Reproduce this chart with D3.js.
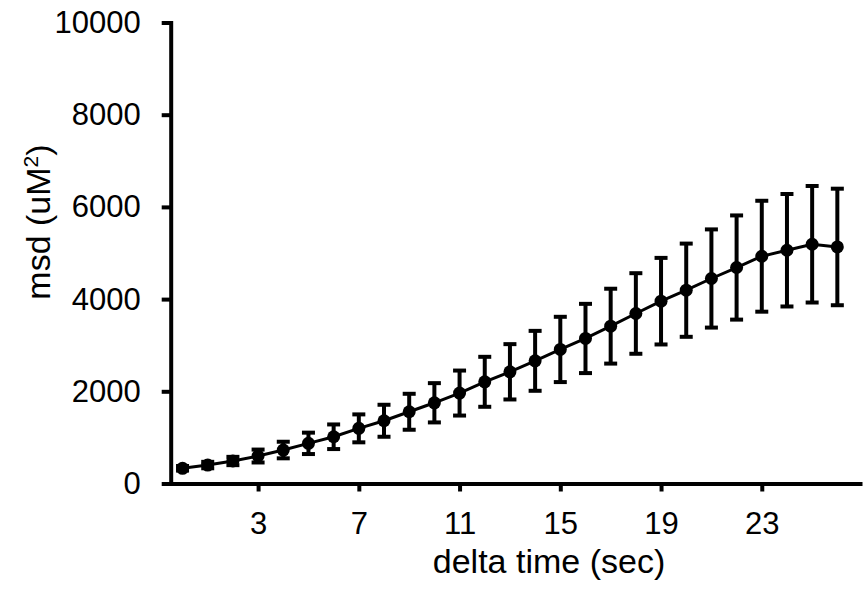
<!DOCTYPE html>
<html>
<head>
<meta charset="utf-8">
<script src="https://cdn.jsdelivr.net/npm/d3@7"></script>
<style>
  html, body { margin: 0; padding: 0; background: #fff; }
  svg { display: block; }
  text { font-family: "Liberation Sans", Arial, Helvetica, sans-serif; fill: #000; }
</style>
</head>
<body>
<svg id="chart" width="864" height="600"></svg>
<script>
// ---- data ----
const deltaTime = [0,1,2,3,4,5,6,7,8,9,10,11,12,13,14,15,16,17,18,19,20,21,22,23,24,25,26];
const msdValues = [330,400,488,596,726,871,1014,1196,1361,1556,1751,1962,2206,2423,2661,2908,3146,3413,3688,3955,4193,4447,4685,4930,5060,5190,5131];
const msdError  = [50,70,90,140,180,232,267,303,347,390,426,488,542,600,650,708,751,812,874,939,1011,1065,1130,1203,1220,1264,1264];
const xTickValues = [3,7,11,15,19,23];
const yTickValues = [0,2000,4000,6000,8000,10000];
const xTitle = "delta time (sec)";

// ---- layout ----
const svg = d3.select("#chart");
const x = d3.scaleLinear().domain([-0.47, 26.9]).range([170.7, 860]);
const y = d3.scaleLinear().domain([0, 10000]).range([483.5, 22.5]);

const data = deltaTime.map((t, i) => ({ t, v: msdValues[i], e: msdError[i] }));

// ---- axes ----
const yAxis = d3.axisLeft(y).tickValues(yTickValues).tickFormat(d3.format("d"))
  .tickSize(9).tickSizeOuter(0).tickPadding(21);
const xAxis = d3.axisBottom(x).tickValues(xTickValues).tickFormat(d3.format("d"))
  .tickSize(8).tickSizeOuter(0).tickPadding(20);

const gy = svg.append("g").attr("transform", `translate(${x.range()[0]},0)`).call(yAxis);
const gx = svg.append("g").attr("transform", `translate(0,${y.range()[0]})`).call(xAxis);

[gx, gy].forEach(g => {
  g.select(".domain").attr("stroke", "#000").attr("stroke-width", 4).attr("stroke-linecap", "square");
  g.selectAll(".tick line").attr("stroke", "#000").attr("stroke-width", 4);
  g.selectAll(".tick text").attr("font-size", 31).attr("font-family", "Liberation Sans, Arial, sans-serif").attr("fill", "#000");
});

// ---- titles ----
svg.append("text")
  .attr("x", 549).attr("y", 573)
  .attr("text-anchor", "middle")
  .attr("font-size", 34)
  .text(xTitle);

const yt = svg.append("text")
  .attr("transform", "translate(50,222) rotate(-90)")
  .attr("text-anchor", "middle")
  .attr("font-size", 34);
yt.append("tspan").text("msd (uM");
yt.append("tspan").attr("font-size", 21).attr("dy", -12).text("2");
yt.append("tspan").attr("dy", 12).text(")");

// ---- error bars ----
const capHalf = 6.5;
const eb = svg.append("g").attr("stroke", "#000").attr("stroke-width", 4);
eb.selectAll("line.v").data(data).join("line").attr("class", "v")
  .attr("x1", d => x(d.t)).attr("x2", d => x(d.t))
  .attr("y1", d => y(d.v - d.e)).attr("y2", d => y(d.v + d.e));
eb.selectAll("line.top").data(data).join("line").attr("class", "top")
  .attr("x1", d => x(d.t) - capHalf).attr("x2", d => x(d.t) + capHalf)
  .attr("y1", d => y(d.v + d.e)).attr("y2", d => y(d.v + d.e));
eb.selectAll("line.bot").data(data).join("line").attr("class", "bot")
  .attr("x1", d => x(d.t) - capHalf).attr("x2", d => x(d.t) + capHalf)
  .attr("y1", d => y(d.v - d.e)).attr("y2", d => y(d.v - d.e));

// ---- line ----
svg.append("path").datum(data)
  .attr("fill", "none").attr("stroke", "#000").attr("stroke-width", 3)
  .attr("d", d3.line().x(d => x(d.t)).y(d => y(d.v)));

// ---- points ----
svg.append("g").selectAll("circle").data(data).join("circle")
  .attr("cx", d => x(d.t)).attr("cy", d => y(d.v)).attr("r", 6.5).attr("fill", "#000");
</script>
</body>
</html>
